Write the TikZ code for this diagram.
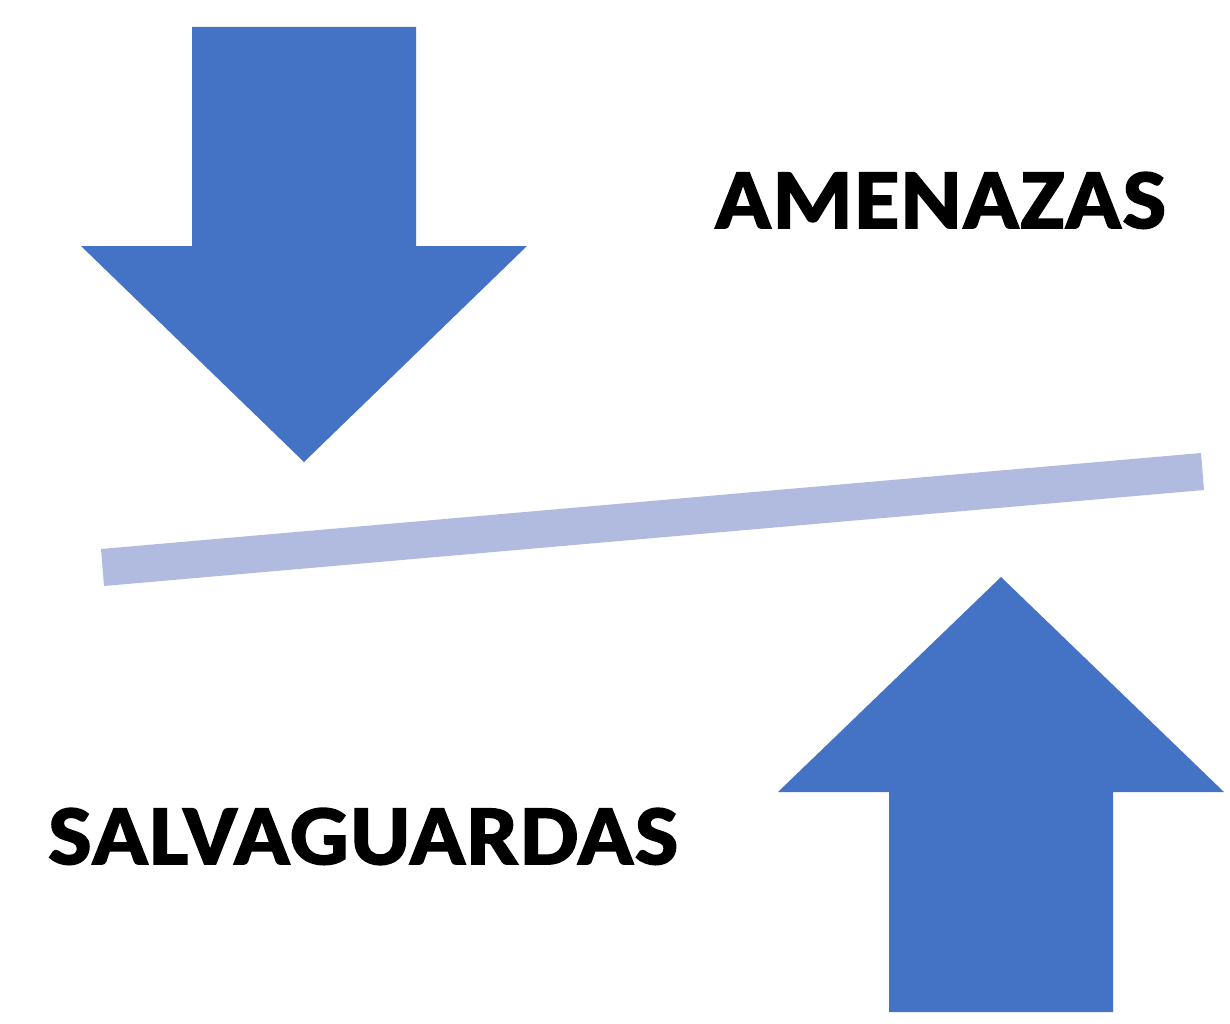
\documentclass[tikz,border=0pt]{standalone}
\usepackage{fontspec}
\setmainfont{Carlito}[BoldFeatures={FakeStretch=1.08,FakeBold=2.2,LetterSpace=2}]
\definecolor{arrowblue}{HTML}{4472C4}
\definecolor{barblue}{HTML}{B0BBDF}
\begin{document}
\begin{tikzpicture}[x=1pt,y=-1pt,
  bigarrow/.style={fill=arrowblue,draw=none},
  barline/.style={fill=barblue,draw=none},
  word/.style={font=\bfseries\fontsize{85}{85}\selectfont,text=black,inner sep=0pt,anchor=base west}]
\useasboundingbox (0,0) rectangle (1230,1024);
\fill[white] (0,0) rectangle (1230,1024);
\fill[bigarrow] (192,27) -- (416,27) -- (416,246) -- (527,246) -- (304,462) -- (81,246) -- (192,246) -- cycle;
\fill[bigarrow] (1001,577) -- (1224,792) -- (1113,792) -- (1113,1012) -- (889,1012) -- (889,792) -- (778,792) -- cycle;
\fill[barline] (101,549) -- (1201,453) -- (1204,490) -- (104,586) -- cycle;
\node[word] (amenazas) at (715,228) {AMENAZAS};
\node[word] (salvaguardas) at (48,864) {SALVAGUARDAS};
\end{tikzpicture}
\end{document}
